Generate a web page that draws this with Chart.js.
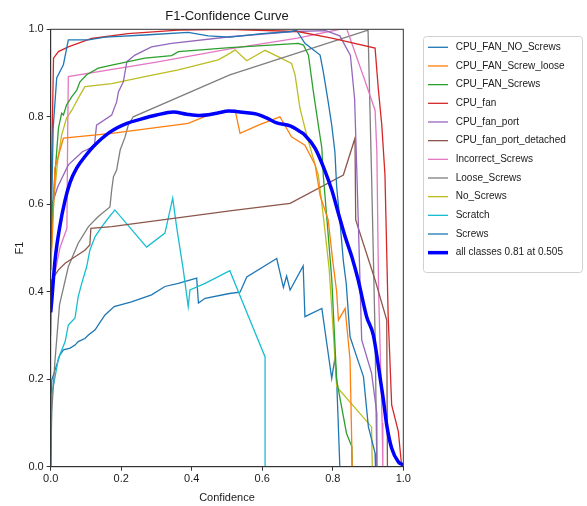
<!DOCTYPE html>
<html>
<head>
<meta charset="utf-8">
<script src="https://cdn.jsdelivr.net/npm/chart.js@4"></script>
<style>
  html, body { margin: 0; padding: 0; background: #fff; }
  #wrap { width: 587px; height: 506px; }
</style>
</head>
<body>
<div id="wrap"><canvas id="f1Chart" width="587" height="506"></canvas></div>
<script>
// curve points: [confidence, F1]
var cpuFanNoScrews = [[0,0.5],[0.004,0.65],[0.007,0.774],[0.017,0.889],[0.036,0.919],[0.05,0.976],[0.107,0.976],[0.154,0.982],[0.267,0.987],[0.39,0.993],[0.447,0.985],[0.508,0.982],[0.6,0.99],[0.683,0.995],[0.697,0.998],[0.721,0.968],[0.764,0.941],[0.773,0.903],[0.787,0.834],[0.797,0.781],[0.806,0.72],[0.811,0.64],[0.82,0.564],[0.83,0.47],[0.838,0.42],[0.849,0.297],[0.868,0.251],[0.887,0.206],[0.901,0.091],[0.92,0.031],[0.921,0]];
var cpuFanScrewLoose = [[0,0.45],[0.006,0.55],[0.012,0.683],[0.036,0.751],[0.173,0.762],[0.39,0.785],[0.447,0.804],[0.523,0.815],[0.537,0.762],[0.589,0.781],[0.65,0.8],[0.683,0.754],[0.721,0.735],[0.75,0.69],[0.764,0.62],[0.787,0.564],[0.8,0.47],[0.811,0.4],[0.816,0.335],[0.835,0.362],[0.849,0.244],[0.854,0.046],[0.855,0]];
var cpuFanScrews = [[0,0.45],[0.006,0.6],[0.012,0.667],[0.022,0.774],[0.031,0.808],[0.036,0.804],[0.045,0.827],[0.06,0.846],[0.074,0.861],[0.083,0.88],[0.102,0.896],[0.135,0.911],[0.173,0.918],[0.267,0.934],[0.343,0.94],[0.362,0.949],[0.508,0.958],[0.702,0.968],[0.717,0.964],[0.731,0.941],[0.745,0.857],[0.759,0.781],[0.769,0.728],[0.773,0.667],[0.785,0.55],[0.797,0.43],[0.811,0.198],[0.839,0.076],[0.854,0.046],[0.855,0]];
var cpuFan = [[0,0.55],[0.004,0.75],[0.008,0.934],[0.022,0.949],[0.05,0.96],[0.116,0.979],[0.219,0.99],[0.361,0.998],[0.5,1.0],[0.7,0.995],[0.797,0.98],[0.92,0.957],[0.929,0.865],[0.939,0.781],[0.948,0.667],[0.957,0.347],[0.967,0.141],[0.986,0.08],[0.995,0.004],[1.0,0]];
var cpuFanPort = [[0,0.5],[0.004,0.6],[0.02,0.64],[0.05,0.69],[0.09,0.72],[0.124,0.733],[0.126,0.75],[0.13,0.781],[0.173,0.804],[0.187,0.834],[0.192,0.857],[0.206,0.88],[0.211,0.903],[0.216,0.926],[0.239,0.941],[0.286,0.96],[0.343,0.968],[0.508,0.983],[0.688,0.995],[0.78,0.997],[0.82,0.985],[0.85,0.94],[0.862,0.84],[0.868,0.68],[0.877,0.43],[0.882,0.29],[0.91,0.214],[0.925,0.122],[0.925,0]];
var cpuFanPortDetached = [[0,0.38],[0.003,0.427],[0.022,0.45],[0.041,0.465],[0.069,0.48],[0.097,0.495],[0.111,0.507],[0.114,0.545],[0.173,0.549],[0.508,0.585],[0.679,0.602],[0.83,0.667],[0.863,0.751],[0.865,0.564],[0.92,0.427],[0.953,0.335],[0.955,0]];
var incorrectScrews = [[0,0.3],[0.004,0.41],[0.026,0.5],[0.046,0.545],[0.048,0.751],[0.05,0.892],[0.3,0.925],[0.508,0.955],[0.7,0.98],[0.82,1.0],[0.84,1.0],[0.887,0.892],[0.92,0.815],[0.925,0.72],[0.93,0.4],[0.94,0.1],[0.942,0]];
var looseScrews = [[0,0],[0.003,0.127],[0.012,0.241],[0.025,0.37],[0.05,0.457],[0.078,0.511],[0.107,0.549],[0.135,0.572],[0.168,0.594],[0.173,0.633],[0.178,0.663],[0.187,0.678],[0.197,0.724],[0.211,0.754],[0.22,0.781],[0.234,0.8],[0.508,0.896],[0.9,0.998],[0.91,0.667],[0.92,0.3],[0.925,0]];
var noScrews = [[0,0.5],[0.01,0.62],[0.02,0.7],[0.031,0.758],[0.045,0.797],[0.06,0.815],[0.078,0.842],[0.097,0.869],[0.173,0.876],[0.267,0.892],[0.362,0.907],[0.475,0.93],[0.508,0.945],[0.523,0.953],[0.556,0.928],[0.608,0.952],[0.646,0.937],[0.683,0.922],[0.693,0.896],[0.707,0.819],[0.726,0.758],[0.75,0.69],[0.759,0.667],[0.775,0.56],[0.79,0.45],[0.802,0.3],[0.811,0.183],[0.91,0.091],[0.912,0]];
var scratch = [[0,0],[0.003,0.164],[0.022,0.248],[0.041,0.286],[0.05,0.324],[0.069,0.34],[0.078,0.389],[0.088,0.419],[0.102,0.457],[0.111,0.495],[0.126,0.526],[0.145,0.549],[0.163,0.568],[0.182,0.587],[0.272,0.502],[0.324,0.534],[0.346,0.614],[0.357,0.549],[0.376,0.45],[0.39,0.366],[0.395,0.404],[0.438,0.419],[0.508,0.448],[0.56,0.345],[0.608,0.251],[0.608,0]];
var screws = [[0,0],[0.003,0.198],[0.026,0.255],[0.036,0.267],[0.055,0.271],[0.069,0.278],[0.078,0.286],[0.097,0.293],[0.107,0.301],[0.126,0.313],[0.135,0.324],[0.154,0.347],[0.18,0.366],[0.229,0.377],[0.286,0.393],[0.324,0.412],[0.362,0.419],[0.414,0.431],[0.419,0.374],[0.438,0.385],[0.507,0.396],[0.537,0.399],[0.556,0.434],[0.641,0.476],[0.66,0.41],[0.669,0.436],[0.679,0.404],[0.716,0.459],[0.721,0.343],[0.769,0.362],[0.797,0.202],[0.806,0.248],[0.811,0.198],[0.82,0]];
var allClasses = [[0,0.353],[0.003,0.38],[0.012,0.47],[0.026,0.55],[0.041,0.61],[0.055,0.65],[0.074,0.683],[0.1,0.712],[0.121,0.732],[0.168,0.765],[0.216,0.785],[0.253,0.794],[0.3,0.804],[0.348,0.811],[0.386,0.806],[0.423,0.803],[0.471,0.808],[0.505,0.813],[0.556,0.809],[0.584,0.806],[0.613,0.797],[0.641,0.786],[0.679,0.779],[0.707,0.766],[0.721,0.758],[0.75,0.728],[0.778,0.676],[0.797,0.633],[0.816,0.579],[0.835,0.526],[0.854,0.48],[0.872,0.427],[0.896,0.343],[0.915,0.301],[0.929,0.232],[0.943,0.156],[0.953,0.095],[0.967,0.042],[0.986,0.011],[1.0,0.004]];

var classNames = ["CPU_FAN_NO_Screws","CPU_FAN_Screw_loose","CPU_FAN_Screws","CPU_fan","CPU_fan_port","CPU_fan_port_detached","Incorrect_Screws","Loose_Screws","No_Screws","Scratch","Screws","all classes 0.81 at 0.505"];
var classCurves = [cpuFanNoScrews, cpuFanScrewLoose, cpuFanScrews, cpuFan, cpuFanPort, cpuFanPortDetached, incorrectScrews, looseScrews, noScrews, scratch, screws, allClasses];
var classColors = ["#1f77b4","#ff7f0e","#2ca02c","#d62728","#9467bd","#8c564b","#e377c2","#7f7f7f","#bcbd22","#17becf","#1f77b4","#0000ff"];
var axisTicks = [0, 0.2, 0.4, 0.6, 0.8, 1.0];

var datasets = [];
for (var i = 0; i < classNames.length; i++) {
    var last = (i == classNames.length - 1);
    datasets.push({
        label: classNames[i],
        data: classCurves[i].map(function(p){ return {x: p[0], y: p[1]}; }),
        borderColor: classColors[i],
        backgroundColor: classColors[i],
        borderWidth: last ? 3.5 : 1.3,
        pointRadius: 0,
        tension: 0,
        cubicInterpolationMode: last ? 'monotone' : 'default',
        fill: false,
        order: last ? 0 : 1
    });
}

var frameBox = {
    id: 'frameBox',
    afterDatasetsDraw: function(chart) {
        var a = chart.chartArea, ctx = chart.ctx;
        ctx.save();
        ctx.strokeStyle = '#333';
        ctx.lineWidth = 1;
        ctx.strokeRect(a.left, a.top, a.right - a.left, a.bottom - a.top);
        ctx.restore();
    }
};

// matplotlib-like legend box to the right of the axes
var boxLegend = {
    id: 'boxLegend',
    afterDraw: function(chart) {
        var ctx = chart.ctx;
        var x0 = 423.5, y0 = 36.5, w = 159, h = 236, r = 3;
        ctx.save();
        ctx.beginPath();
        ctx.moveTo(x0 + r, y0);
        ctx.arcTo(x0 + w, y0, x0 + w, y0 + h, r);
        ctx.arcTo(x0 + w, y0 + h, x0, y0 + h, r);
        ctx.arcTo(x0, y0 + h, x0, y0, r);
        ctx.arcTo(x0, y0, x0 + w, y0, r);
        ctx.closePath();
        ctx.fillStyle = 'rgba(255,255,255,0.8)';
        ctx.fill();
        ctx.strokeStyle = '#d0d0d0';
        ctx.lineWidth = 1;
        ctx.stroke();
        ctx.font = '10px "Liberation Sans", Arial, sans-serif';
        ctx.textBaseline = 'middle';
        chart.data.datasets.forEach(function(ds, k) {
            var y = 47.3 + k * 18.67;
            ctx.beginPath();
            ctx.moveTo(428, y);
            ctx.lineTo(448, y);
            ctx.strokeStyle = ds.borderColor;
            ctx.lineWidth = ds.borderWidth;
            ctx.stroke();
            ctx.fillStyle = '#1a1a1a';
            ctx.fillText(ds.label, 455.7, y);
        });
        ctx.restore();
    }
};

var tickFmt = function(v) { return axisTicks.indexOf(Math.round(v * 10) / 10) >= 0 ? (Math.round(v * 10) / 10).toFixed(1) : ''; };

var canvas = document.getElementById('f1Chart');
var myChart = new Chart(canvas, {
    type: 'line',
    data: { datasets: datasets },
    plugins: [frameBox, boxLegend],
    options: {
        responsive: false,
        animation: false,
        layout: { padding: { left: 0, right: 183.7, top: 0, bottom: 0 } },
        plugins: {
            legend: { display: false },
            tooltip: { enabled: false },
            title: {
                display: true,
                text: 'F1-Confidence Curve',
                fullSize: false,
                color: '#1a1a1a',
                font: { family: '"Liberation Sans", Arial, sans-serif', size: 13, weight: 'normal' },
                padding: { top: 9, bottom: 4.7 }
            }
        },
        scales: {
            x: {
                type: 'linear',
                min: 0, max: 1,
                afterFit: function(s) { s.height = 39.3; },
                afterBuildTicks: function(s) { s.ticks = axisTicks.map(function(v){ return {value: v}; }); },
                ticks: { color: '#1a1a1a', padding: 2, maxRotation: 0, font: { family: '"Liberation Sans", Arial, sans-serif', size: 11 }, callback: tickFmt },
                grid: { display: true, drawOnChartArea: false, drawTicks: true, tickLength: 4, color: '#333' },
                border: { display: true, color: '#333' },
                title: { display: true, text: 'Confidence', color: '#1a1a1a', padding: { top: 0, bottom: 1.4 }, font: { family: '"Liberation Sans", Arial, sans-serif', size: 11 } }
            },
            y: {
                min: 0, max: 1,
                afterFit: function(s) { s.width = 50.7; },
                afterBuildTicks: function(s) { s.ticks = axisTicks.map(function(v){ return {value: v}; }); },
                ticks: { color: '#1a1a1a', padding: 3, font: { family: '"Liberation Sans", Arial, sans-serif', size: 11 }, callback: tickFmt },
                grid: { display: true, drawOnChartArea: false, drawTicks: true, tickLength: 4, color: '#333' },
                border: { display: true, color: '#333' },
                title: { display: true, text: 'F1', color: '#1a1a1a', padding: { top: 13.4, bottom: 0 }, font: { family: '"Liberation Sans", Arial, sans-serif', size: 11 } }
            }
        }
    }
});
</script>
</body>
</html>
